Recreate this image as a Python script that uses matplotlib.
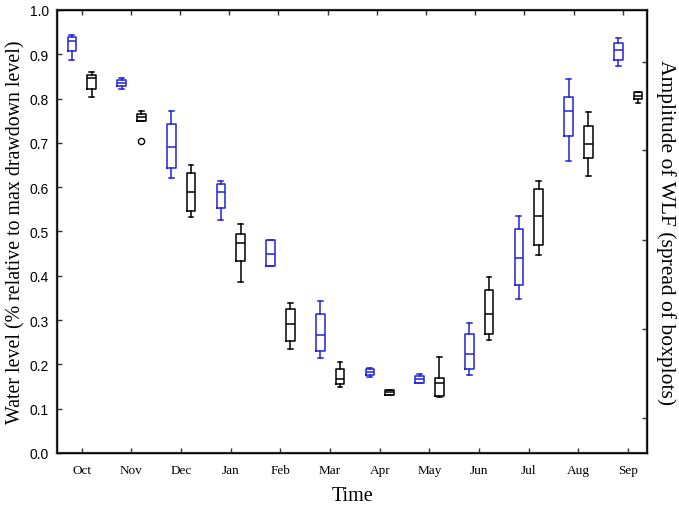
import matplotlib
matplotlib.use("Agg")
import matplotlib.pyplot as plt

# Monthly water level box stats
months = ['Oct', 'Nov', 'Dec', 'Jan', 'Feb', 'Mar', 'Apr', 'May', 'Jun', 'Jul', 'Aug', 'Sep']

# blue series: whisker low, q1, median, q3, whisker high
blue_whislo = [0.888, 0.822, 0.621, 0.525, 0.421, 0.215, 0.172, 0.157, 0.175, 0.348, 0.659, 0.873]
blue_q1     = [0.908, 0.828, 0.643, 0.552, 0.421, 0.230, 0.177, 0.159, 0.190, 0.380, 0.716, 0.886]
blue_med    = [0.931, 0.835, 0.691, 0.590, 0.450, 0.266, 0.183, 0.167, 0.224, 0.441, 0.771, 0.909]
blue_q3     = [0.938, 0.842, 0.743, 0.607, 0.481, 0.314, 0.189, 0.173, 0.269, 0.505, 0.803, 0.926]
blue_whishi = [0.944, 0.846, 0.771, 0.615, 0.481, 0.343, 0.192, 0.178, 0.294, 0.536, 0.844, 0.937]

# black series
black_whislo = [0.804, 0.750, 0.533, 0.386, 0.235, 0.150, 0.132, 0.127, 0.255, 0.447, 0.625, 0.791]
black_q1     = [0.822, 0.750, 0.547, 0.434, 0.253, 0.156, 0.132, 0.129, 0.269, 0.470, 0.667, 0.800]
black_med    = [0.847, 0.758, 0.589, 0.474, 0.291, 0.168, 0.138, 0.157, 0.313, 0.534, 0.697, 0.806]
black_q3     = [0.853, 0.766, 0.633, 0.495, 0.325, 0.190, 0.143, 0.169, 0.369, 0.595, 0.737, 0.815]
black_whishi = [0.859, 0.773, 0.649, 0.517, 0.339, 0.205, 0.143, 0.216, 0.397, 0.615, 0.770, 0.815]
black_fliers = [[], [0.705], [], [], [], [], [], [], [], [], [], []]

BLUE = '#2222dd'


def make_stats(lo, q1, med, q3, hi, fliers=None):
    out = []
    for i in range(len(lo)):
        out.append({'whislo': lo[i], 'q1': q1[i], 'med': med[i], 'q3': q3[i],
                    'whishi': hi[i], 'fliers': fliers[i] if fliers else []})
    return out


fig = plt.figure(figsize=(6.79, 5.06), dpi=100)
ax = fig.add_axes([0.0839, 0.1028, 0.8697, 0.8755])

x = list(range(1, len(months) + 1))
off = 0.2
w = 0.175

for stats, pos, col in [
    (make_stats(blue_whislo, blue_q1, blue_med, blue_q3, blue_whishi), [p - off for p in x], BLUE),
    (make_stats(black_whislo, black_q1, black_med, black_q3, black_whishi, black_fliers), [p + off for p in x], 'black'),
]:
    lw = 1.1
    ax.bxp(stats, positions=pos, widths=w, capwidths=w * 0.55, showfliers=True,
           boxprops=dict(color=col, linewidth=lw),
           medianprops=dict(color=col, linewidth=lw),
           whiskerprops=dict(color=col, linewidth=lw),
           capprops=dict(color=col, linewidth=lw),
           flierprops=dict(marker='o', markerfacecolor='none', markeredgecolor=col,
                           markersize=4.5, markeredgewidth=1.0),
           manage_ticks=False)

ax.set_xlim(0.5, 12.39)
ax.set_ylim(0, 1.0)
ax.set_xticks(x)
ax.set_xticklabels(months, fontfamily='Liberation Serif', fontsize=9.5)
ax.set_yticks([i / 10 for i in range(11)])
ax.set_yticklabels([f'{i / 10:.1f}' for i in range(11)], fontfamily='Liberation Sans', fontsize=10)
ax.tick_params(axis='x', direction='in', length=3.5, width=1.0, color='#333333', pad=8)
ax.tick_params(axis='y', direction='in', length=3.5, width=1.0, color='#333333', pad=6)

for s in ax.spines.values():
    s.set_linewidth(1.6)
    s.set_color('#333333')

ax.set_xlabel('Time', fontfamily='Liberation Serif', fontsize=14.5, labelpad=7)
ax.set_ylabel('Water level (% relative to max drawdown level)', fontfamily='Liberation Serif',
              fontsize=14.3, labelpad=3)

# top axis ticks (separate scale, no labels)
axt = ax.twiny()
axt.set_xlim(0.5, 12.5)
axt.set_xticks(x)
axt.set_xticklabels([])
axt.tick_params(direction='in', length=3.5, width=1.0, color='#333333')

# right axis ticks, no labels
axr = ax.twinx()
axr.set_ylim(0, 1.0)
axr.set_yticks([0.079, 0.280, 0.481, 0.683, 0.883])
axr.set_yticklabels([])
axr.tick_params(direction='in', length=3.5, width=1.0, color='#333333')
axr.set_ylabel('Amplitude of WLF (spread of boxplots)', fontfamily='Liberation Serif',
               fontsize=15.5, rotation=270, labelpad=17)

fig.savefig('out.png', dpi=100)
